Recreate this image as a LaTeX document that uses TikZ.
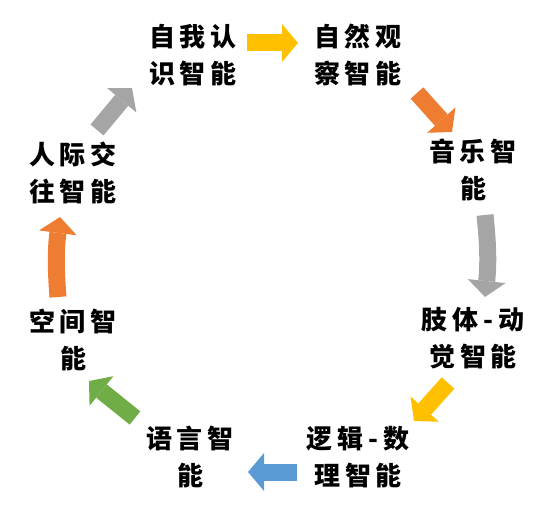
\documentclass[tikz,border=0pt]{standalone}
\usepackage{fontspec}
\usetikzlibrary{arrows.meta}
\newfontfamily\cjk[LetterSpace=19]{Noto Sans CJK SC}
\definecolor{cgold}{HTML}{FFC000}
\definecolor{corange}{HTML}{EE7D31}
\definecolor{cgray}{HTML}{A5A5A5}
\definecolor{cblue}{HTML}{5B9BD5}
\definecolor{cgreen}{HTML}{70AD47}
\tikzset{
  lbl/.style={align=center, inner sep=0pt, font=\cjk\bfseries\fontsize{26}{37}\selectfont},
  cyc/.style={draw=#1, line width=17pt, -{Triangle[length=16pt,width=38pt,line width=0pt,fill=#1]}}
}
\begin{document}
\begin{tikzpicture}[x=1pt,y=-1pt]
\useasboundingbox (0,0) rectangle (540,516);
\node[lbl] (self) at (193,55) {自我认\\识智能};
\node[lbl] (nature) at (358,55) {自然观\\察智能};
\node[lbl] (music) at (473,170) {音乐智\\能};
\node[lbl] (body) at (473,338) {肢体-动\\觉智能};
\node[lbl] (logic) at (358,457) {逻辑-数\\理智能};
\node[lbl] (language) at (190,457) {语言智\\能};
\node[lbl] (space) at (73,340) {空间智\\能};
\node[lbl] (social) at (73,173) {人际交\\往智能};
\draw[cyc=cgold] ([shift={(54,-12)}]self.center) -- ([shift={(-60,-12)}]nature.center);
\draw[cyc=corange] ([shift={(59,38)}]nature.center) -- ([shift={(-21,-38)}]music.center);
\draw[cyc=cgray] ([shift={(12,45)}]music.center) to[bend left=6] ([shift={(12,-41)}]body.center);
\draw[cyc=cgold] ([shift={(-25,45)}]body.center) -- ([shift={(56,-36)}]logic.center);
\draw[cyc=cblue] ([shift={(-61,15)}]logic.center) -- ([shift={(58,15)}]language.center);
\draw[cyc=cgreen] ([shift={(-55,-39)}]language.center) -- ([shift={(16,41)}]space.center);
\draw[cyc=corange] ([shift={(-15,-43)}]space.center) to[bend left=6] ([shift={(-13,44)}]social.center);
\draw[cyc=cgray] ([shift={(24,-43)}]social.center) -- ([shift={(-61,33)}]self.center);
\end{tikzpicture}
\end{document}
